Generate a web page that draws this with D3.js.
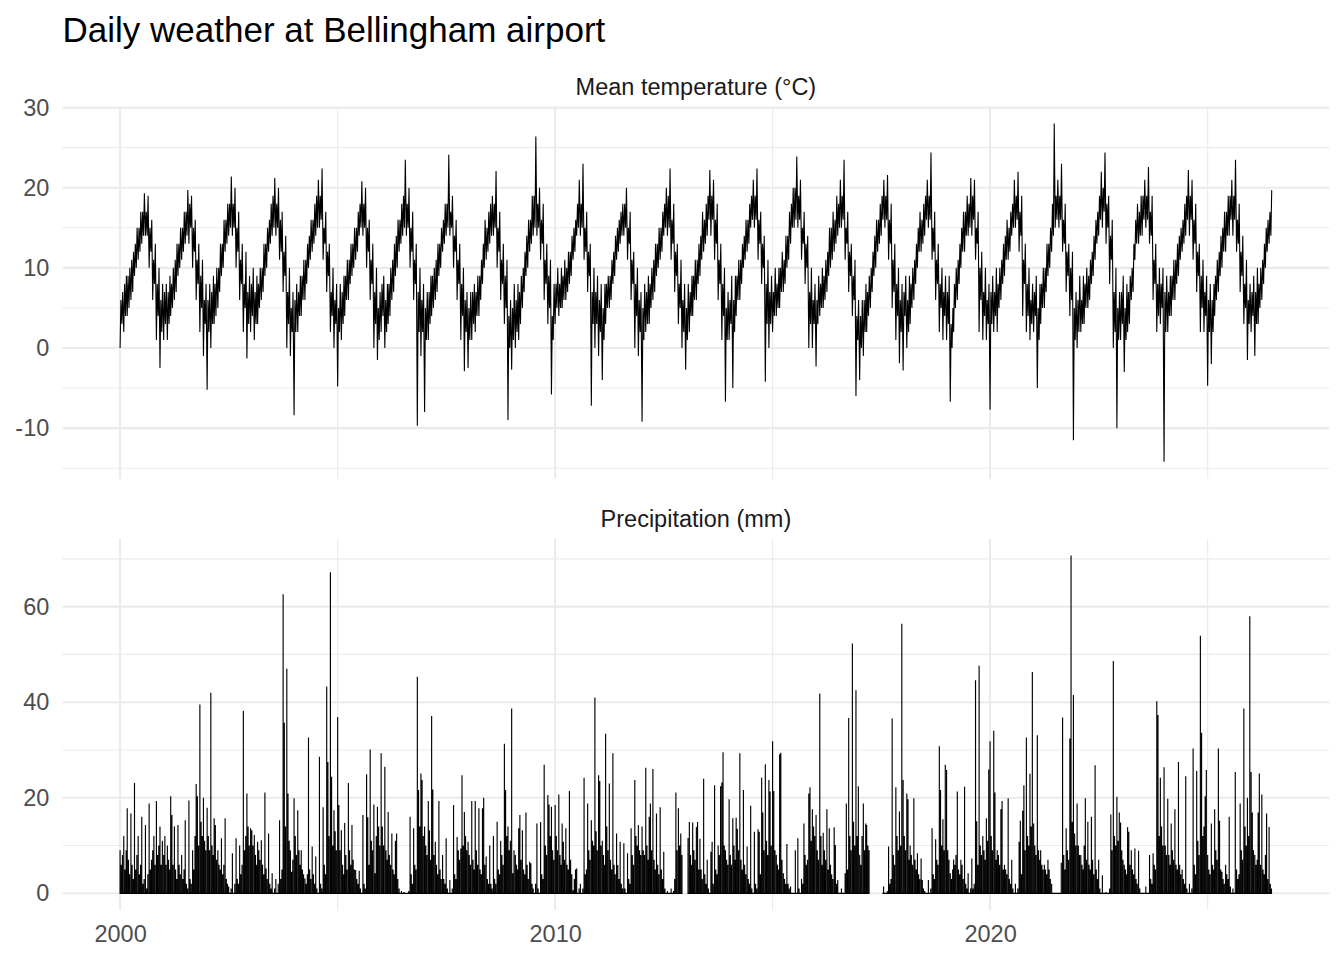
<!DOCTYPE html>
<html>
<head>
<meta charset="utf-8">
<script src="https://cdn.jsdelivr.net/npm/d3@7/dist/d3.min.js"></script>
<style>
  body { margin: 0; background: #fff; }
  svg { display: block; font-family: "Liberation Sans", Arial, Helvetica, sans-serif; }
</style>
</head>
<body>
<script>
// Daily weather at Bellingham airport.
// Temperature, per month: the low and high swings (spikes included), in °C
var t2000 = [0,7, 2,9, 4,10, 6,12, 9,15, 11,17, 13,19.3, 14,19, 10,16, 6,13, 1,10, -2.5,8];
var t2001 = [1,8, 1,9, 4,10, 6,13, 9,15, 11,17, 13,19.7, 13,19, 10,16, 6,13, 2,11, -1,8];
var t2002 = [-5.2,8, 0,9, 3,10, 5,13, 9,16, 12,18, 14,21.4, 14,20, 10,17, 6,13, 2,12, -1.3,9];
var t2003 = [2,10, 1,9, 3,10, 6,13, 9,15, 12,18, 14,21.2, 14,20, 11,17, 7,14, 0,10, -1,7];
var t2004 = [-8.4,8, 2,9, 4,11, 6,13, 10,16, 12,18, 14,21, 15,22.4, 11,17, 7,13, 2,10, 0,8];
var t2005 = [-4.8,8, 1,9, 4,11, 6,13, 9,15, 11,17, 14,20.8, 14,20, 10,16, 6,13, 0,10, -1.5,7];
var t2006 = [2,9, 0,8, 3,10, 6,13, 9,16, 12,18, 14,23.5, 14,20, 10,17, 6,13, -9.7,10, -1,8];
var t2007 = [-8,7, 1,9, 4,10, 6,13, 9,15, 12,18, 14,24.1, 14,19, 10,16, 6,13, 1,10, -2.9,7];
var t2008 = [-2.5,7, 1,8, 2,9, 4,11, 8,16, 11,17, 13,19, 14,22.1, 10,17, 6,13, 3,11, -9,6];
var t2009 = [-2.7,8, 0,8, 1,9, 5,12, 9,16, 12,19, 14,26.4, 14,20, 11,18, 6,13, 3,11, -5.8,8];
var t2010 = [3,10, 4,10, 5,11, 6,12, 8,14, 11,16, 14,21, 14,23, 11,17, 7,13, -7.2,10, 0,9];
var t2011 = [-1,8, -4,8, 3,9, 5,11, 8,14, 11,16, 13,18, 14,20, 11,17, 6,12, 0,10, -1,7];
var t2012 = [-9.2,8, 2,9, 3,10, 6,13, 9,15, 11,17, 14,20, 14,22.4, 11,18, 7,13, 3,11, 0,8];
var t2013 = [-2.7,8, 2,9, 4,11, 6,13, 9,17, 12,18, 14,22.2, 14,21, 11,18, 6,13, 1,10, -6.7,7];
var t2014 = [1,9, -5,9, 4,11, 6,13, 10,16, 12,18, 15,21, 15,22.4, 11,17, 8,14, -4.2,11, 0,9];
var t2015 = [2,10, 4,10, 5,12, 7,14, 10,17, 13,20, 15,23.9, 15,21, 11,17, 8,14, 0,10, 0,8];
var t2016 = [-2.3,9, 4,10, 5,11, 7,15, 10,17, 12,19, 14,21, 15,23.5, 11,17, 7,13, 4,11, -6,6];
var t2017 = [-4,6, -1,8, 2,9, 5,12, 9,16, 12,18, 14,21, 15,21.6, 11,18, 5,13, 1,10, -1.9,8];
var t2018 = [-2.8,9, 0,9, 3,10, 6,13, 10,17, 12,18, 14,21, 15,24.4, 11,17, 6,13, 2,10, 1,9];
var t2019 = [1,9, -6.7,5, 2,10, 6,13, 10,17, 12,19, 14,21.2, 14,21, 11,17, 2,12, 1,10, 1,8];
var t2020 = [-7.7,9, 2,10, 2,10, 6,13, 9,16, 11,17, 14,21, 15,22, 12,19, 4,13, 2,10, 1,8];
var t2021 = [2,9, -5,8, 3,10, 5,13, 9,15, 12,28, 15,21, 15,23, 12,18, 7,13, 4,12, -11.5,7];
var t2022 = [0,9, 2,9, 3,10, 5,11, 8,14, 11,17, 14,22, 15,24.4, 13,19, 8,16, 0,10, -10,7];
var t2023 = [1,9, -3,8, 2,9, 6,13, 11,18, 13,19, 14,21, 15,22.6, 13,19, 6,13, 2,10, 3,10];
var t2024 = [-14.2,9, 2,9, 4,11, 6,13, 9,15, 12,18, 14,22.2, 14,21, 11,18, 7,13, 2,11, 2,9];
var t2025 = [-4.7,8, -2,8, 4,11, 7,14, 10,17, 12,19, 14,21, 14,23.5, 12,18, 7,14, 3,11, -1.5,8];
var t2026 = [2,9, -1,10, 3,10, 6,13, 10,16, 13,19.7];

// Temperature, per month: low and high edge of the dense daily band, in °C
var tb2000 = [3,6, 4,8, 5,9, 7,11, 10,13, 12,15, 14,17, 14,17, 12,15, 8,11, 4,8, 2,6];
var tb2001 = [3,7, 3,7, 5,8, 7,11, 10,13, 12,15, 14,17, 15,18, 12,15, 8,11, 5,9, 3,6];
var tb2002 = [2,6, 3,7, 4,8, 7,10, 10,13, 13,16, 15,18, 15,18, 12,15, 8,11, 5,8, 3,7];
var tb2003 = [4,8, 3,7, 5,8, 7,10, 10,13, 13,16, 15,19, 15,18, 12,16, 9,12, 3,7, 2,5];
var tb2004 = [2,6, 4,7, 6,9, 8,11, 11,14, 13,16, 15,19, 16,19, 13,15, 9,12, 4,7, 3,6];
var tb2005 = [2,5, 3,7, 6,9, 8,11, 10,13, 12,15, 15,18, 15,18, 12,15, 8,11, 3,7, 1,5];
var tb2006 = [4,8, 2,6, 4,8, 7,11, 10,14, 13,16, 15,19, 15,18, 12,15, 8,11, 2,7, 2,6];
var tb2007 = [1,5, 3,7, 5,9, 7,11, 10,13, 13,16, 15,18, 15,17, 12,14, 8,11, 4,8, 2,6];
var tb2008 = [1,5, 3,7, 4,7, 6,9, 10,13, 12,15, 14,18, 15,18, 12,15, 8,11, 5,9, 0,4];
var tb2009 = [1,5, 2,6, 3,7, 7,10, 10,14, 13,16, 15,19, 15,18, 13,16, 8,11, 5,9, 1,4];
var tb2010 = [5,8, 5,8, 6,9, 7,10, 9,12, 12,15, 15,18, 15,18, 12,15, 9,12, 3,7, 3,7];
var tb2011 = [2,6, 1,5, 5,8, 6,9, 9,12, 12,15, 14,17, 15,18, 13,15, 8,11, 4,8, 2,6];
var tb2012 = [1,5, 3,7, 5,8, 7,11, 10,13, 12,15, 15,18, 15,19, 13,16, 9,12, 5,8, 2,6];
var tb2013 = [1,5, 4,7, 6,9, 8,11, 11,14, 13,16, 16,19, 16,19, 13,16, 8,11, 4,8, 1,5];
var tb2014 = [3,6, 2,6, 6,9, 8,11, 11,14, 13,16, 16,19, 16,19, 13,16, 10,13, 3,8, 3,7];
var tb2015 = [4,7, 5,8, 7,10, 8,11, 11,14, 15,18, 16,20, 16,19, 13,15, 10,13, 3,7, 3,6];
var tb2016 = [3,6, 5,8, 6,9, 9,12, 11,15, 13,16, 15,18, 16,19, 13,15, 9,12, 6,9, 1,4];
var tb2017 = [0,4, 2,6, 4,7, 7,10, 10,14, 13,16, 16,19, 16,19, 13,16, 7,11, 4,8, 2,6];
var tb2018 = [4,7, 2,6, 5,8, 8,11, 12,15, 13,16, 16,19, 16,19, 12,15, 8,11, 5,8, 4,7];
var tb2019 = [3,7, 0,3, 5,8, 8,11, 12,15, 14,17, 15,18, 16,19, 13,15, 6,10, 4,7, 3,6];
var tb2020 = [3,7, 4,7, 5,8, 8,11, 11,14, 12,15, 15,18, 16,19, 14,17, 8,11, 4,8, 3,6];
var tb2021 = [4,7, 1,5, 5,8, 7,10, 10,13, 14,18, 16,19, 16,19, 13,16, 9,12, 6,10, 1,5];
var tb2022 = [2,6, 3,6, 5,8, 6,9, 9,12, 13,16, 16,19, 17,20, 15,18, 11,14, 2,7, 1,5];
var tb2023 = [3,7, 1,5, 3,7, 7,10, 13,16, 14,17, 16,19, 16,19, 14,17, 8,11, 4,8, 5,8];
var tb2024 = [2,7, 4,7, 6,9, 8,11, 11,14, 13,16, 16,19, 16,19, 13,16, 9,12, 5,9, 4,7];
var tb2025 = [2,6, 2,6, 6,9, 9,12, 12,15, 14,17, 16,19, 16,19, 13,16, 9,12, 5,8, 3,6];
var tb2026 = [4,7, 3,7, 5,8, 8,11, 12,15, 14,17];

// Precipitation: three readings per month (1st, 11th, 21st), mm; null = no record
var p2000 = [9,6,8, 12,5,9, 17.8,7,4, 16.7,6,3, 23.1,5,8, 12,4,6, 16,2,3, 14.3,1,4, 18.8,5,7, 9,12,6, 19.3,8,10, 14,6,11];
var p2001 = [8,12,6, 10,7,5, 20.3,16.4,6, 14,5,3, 14.3,6,4, 8,3,5, 15.3,2,1, 19.4,3,2, 9,5,12, 22.9,20.3,10, 39.5,15,12, 20,11,9];
var p2002 = [17.9,12,9, 42,10,8, 15.7,14.3,7, 9,6,5, 11.5,4,6, 15.7,3,2, 1.4,0,1, 8.4,0,2, 11.5,3,2, 10,4,6, 38.2,9,12, 20.9,14,10];
var p2003 = [13.6,13.2,10, 12.2,8,6, 10.8,9,7, 11.1,6,4, 21.1,5.2,3, 12.5,2,1, 4.2,0,1, 3,0,2, 15.3,3,5, 62.6,35.7,14, 47,20.9,11, 9,4.5,7];
var p2004 = [19.9,12,8, 17.4,9,6, 9,5,4, 3.1,2,4, 32.6,5,3, 9.8,4,2, 7.7,1,0, 28.6,2,1, 18,6,4, 43.3,27.5,12, 67.2,24.4,10, 17.4,13,9];
var p2005 = [36.9,18.5,9, 13.2,6,4, 14.7,8,5, 23.1,9,6, 14.3,7,5, 4.9,3,2, 4.7,1,0, 16.4,2,1, 24.9,15.9,6, 30.1,11,9, 18.6,4.2,12, 18.1,14,10];
var p2006 = [29.3,14,10, 26.5,9,7, 17,8,6, 12.5,5,4, 11,12.5,3, 1,0,0.5, 0,0.3,0, 0,0,0.5, 16,4,2, 13.6,6,5, 45.3,21.6,14, 25.1,23.7,12];
var p2007 = [14,10,8, 19.3,13.2,7, 37.1,21.7,8, 10.8,6,4, 19.3,5,3, 8,3,2, 11.5,1,0, 2.8,0,1, 18.5,4,3, 11.8,9,7, 9.4,24.7,10, 17,12,9];
var p2008 = [10.8,8,6, 19.3,7,5, 19.3,9,6, 17.8,5,4, 17.8,20,6, 7.7,3,2, 10,2,1, 12,3,2, 15,5,4, 11,8,6, 31.3,21.6,12, 14,9,11];
var p2009 = [38.7,4.2,9, 8,6,5, 13.6,16.4,7, 13.2,5,4, 16.9,6,3, 6.6,6.3,2, 1,0,2, 14.6,1,0, 14.9,4,3, 26.9,10,8, 20.6,18.6,12, 18.1,9,7];
var p2010 = [18.5,12,9, 20.7,8,6, 14.6,10.8,7, 13.6,6,5, 21.4,7,4, 0.7,3,5, 5.2,0,1, 2,0,1, 24.2,4,5, 18.8,9,7, 15.3,11,10, 41,13,9];
var p2011 = [24.7,23.5,10, 11,8,6, 33.4,14,9, 23,7,5, 29.3,6,4, 12.5,5.9,3, 10.8,2,1, 10.5,1,0, 8.4,3,2, 13.6,8,6, 23.7,12,10, 14.3,9,8];
var p2012 = [14,9,8, 26.3,10,7, 16,18.8,9, 26,7,5, 16.7,6,4, 18,5,3, 8.7,1,0, 0.5,0,0, 1,0,0.5, 3,21.1,9, 17.8,10,12.5, 8,null,null];
var p2013 = [null,null,11.6, 14.9,8,6, 14.8,9,7, 13.9,14.9,5, 11.4,5,3, 24,4,2, 7,1,0, 8.7,10.8,2, 22.6,5,4, 10,8,22.4, 23.2,29.5,10, 9,7,6];
var p2014 = [19.7,8,6, 15.7,10,7, 15.8,13.5,9, 29.3,7,5, 21.6,6,4, 9.8,3,2, 18.3,1,0, 12.9,2,1, 13.4,12.9,4, 24.2,16.9,9, 27,11,8, 23.7,21.3,10];
var p2015 = [31.8,21.4,9, 8,6,5, 29.1,29.4,7, 4.2,3,2, 10.3,2,1, 1.4,0,0, 0,9,0, 11.5,1,0, 3,2,14.6, 8,6,7, 20.9,22.2,11, 17.6,14,12];
var p2016 = [16.4,9,7, 41.8,12,6, 12.7,9,7, 17.6,5,13.6, 6,4,3, 13.8,10.1,2, 2.8,0,0, 1,0,0, 4.2,18.8,5, 36.7,12,9, 52.3,15,10, 42.5,12,22.4];
var p2017 = [8,6,12, 18.8,9,14.6, 14.3,10,9, null,null,null, null,null,null, null,null,null, null,0,1.4, 0,0,0.5, 9.8,2,3, 36.6,8,6, 22.2,12,9, 17.1,10,56.4];
var p2018 = [23.7,12,9, 20.9,19.7,7, 10,8,6, 19.9,7,5, 8.4,4,3, 7.3,2.8,1, 0.5,0,0, 2.8,0,1, 13.6,4,3, 11.3,7,6, 30.8,21.6,10, 15.5,9,26.9];
var p2019 = [25.8,9,7, 4.2,3,5, 7.1,6,8, 21.3,5,4, 7,6,3, 22.3,2,1, 4.2,0,1, 7.3,1,2, 44.6,15.1,6, 47.6,10,8, 12,9,7, 15.7,11,25.9];
var p2020 = [31.8,12,9, 34,21.1,7, 9,8,6, 17.6,19.3,5, 6,5,4, 19.9,3,2, 7,1,0, 2,0,1, 10.8,15.2,4, 17.3,22.6,9, 32.6,12,10, 25,14,46.3];
var p2021 = [14.6,10,8, 33.1,9,7, 9,6,5, 6,5,4, 7,5,3, 2,0,0, 0,0,0, 0,0,6.4, 36.8,8,5, 13.6,9,7, 32.4,70.7,15, 41.5,12.5,10];
var p2022 = [18.8,10,8, 8,6,5, 10,19.9,7, 15,6,5, 16,7,4, 26.8,5,3, 7,1,0, 3.8,0,0, 0.3,0,0, 1,16.5,9, 48.6,12,10, 20.2,11,16.9];
var p2023 = [14.8,9,7, 6,5,4, 13.8,12.9,6, 9,5,4, 9.4,3,2, 8.9,1,0, 0,0,0, 1.4,0,0, 8,3,2, 8.4,6,5, 40.2,37.3,12, 24.2,14,10];
var p2024 = [26.4,10,8, 19.8,8,6, 14.6,9,7, 17.6,6,5, 27.5,6,4, 5,3,2, 24.5,1,0, 2,0,1, 30.3,6,4, 25.6,11,8, 53.9,33.6,12, 14,20.3,25.8];
var p2025 = [8,5,4, 14.6,6,5, 17.6,9,7, 30.3,15.2,5, 4.5,3,2, 6,4,3, 16,1.4,0, 1,0,25.4, 5,3,4, 18.8,9,7, 38.7,14,10, 20,12,58];
var p2026 = [25.4,16.9,9, 8,6,7, 16.9,25.1,6, 20.7,5,4, 8,16.7,3, 13.9,2,1];

var years = d3.range(2000, 2027);
var tempByYear = [t2000,t2001,t2002,t2003,t2004,t2005,t2006,t2007,t2008,t2009,t2010,t2011,t2012,t2013,
                  t2014,t2015,t2016,t2017,t2018,t2019,t2020,t2021,t2022,t2023,t2024,t2025,t2026];
var bandByYear = [tb2000,tb2001,tb2002,tb2003,tb2004,tb2005,tb2006,tb2007,tb2008,tb2009,tb2010,tb2011,tb2012,tb2013,
                  tb2014,tb2015,tb2016,tb2017,tb2018,tb2019,tb2020,tb2021,tb2022,tb2023,tb2024,tb2025,tb2026];
var precipByYear = [p2000,p2001,p2002,p2003,p2004,p2005,p2006,p2007,p2008,p2009,p2010,p2011,p2012,p2013,
                    p2014,p2015,p2016,p2017,p2018,p2019,p2020,p2021,p2022,p2023,p2024,p2025,p2026];

var chartTitle = "Daily weather at Bellingham airport";
var panelTitles = ["Mean temperature (°C)", "Precipitation (mm)"];
var tempTicks = [-10, 0, 10, 20, 30], tempMinor = [-15, -5, 5, 15, 25];
var precipTicks = [0, 20, 40, 60], precipMinor = [10, 30, 50, 70];
var yearTicks = [2000, 2010, 2020], yearMinor = [2005, 2015, 2025];

// turn the arrays into dated rows: four temperature readings a month
// (swing low on the 1st, band high on the 8th, band low on the 16th, swing high on the 23rd)
var temps = [], precs = [];
years.forEach(function(yr, i) {
  var t = tempByYear[i], b = bandByYear[i];
  for (var m = 0; m < t.length / 2; m++) {
    temps.push({date: new Date(yr, m, 1),  value: t[2 * m]});
    temps.push({date: new Date(yr, m, 8),  value: b[2 * m + 1]});
    temps.push({date: new Date(yr, m, 16), value: b[2 * m]});
    temps.push({date: new Date(yr, m, 23), value: t[2 * m + 1]});
  }
  precipByYear[i].forEach(function(v, k) {
    precs.push({date: new Date(yr, Math.floor(k / 3), [1, 11, 21][k % 3]), value: v});
  });
});

// layout, like a ggplot theme_minimal at this size
var W = 1344, H = 960;
var left = 62.5, right = W - 14.7;
var panels = [{top: 106.7, bottom: 478.7}, {top: 538.6, bottom: 910.2}];

var svg = d3.select("body").append("svg").attr("width", W).attr("height", H);

// expand a domain by 5% on each side
function expand(ext) {
  var p = (ext[1] - ext[0]) * 0.05;
  return [ext[0] - p, ext[1] + p];
}

var allDates = temps.map(function(d){ return d.date; }).concat(precs.map(function(d){ return d.date; }));
var dExt = d3.extent(allDates).map(Number);
var x = d3.scaleTime().domain(expand(dExt).map(function(v){ return new Date(v); })).range([left, right]);

var yT = d3.scaleLinear().domain(expand(d3.extent(temps, function(d){ return d.value; })))
  .range([panels[0].bottom, panels[0].top]);
var yP = d3.scaleLinear().domain(expand([0, d3.max(precs, function(d){ return d.value; })]))
  .range([panels[1].bottom, panels[1].top]);

var grid = "#ebebeb";

function drawGrid(y, p, major, minor) {
  var g = svg.append("g");
  g.selectAll(".ym").data(minor).enter().append("line")
    .attr("x1", left).attr("x2", right)
    .attr("y1", function(d){ return y(d); }).attr("y2", function(d){ return y(d); })
    .attr("stroke", grid).attr("stroke-width", 1.1);
  g.selectAll(".xm").data(yearMinor).enter().append("line")
    .attr("y1", p.top).attr("y2", p.bottom)
    .attr("x1", function(d){ return x(new Date(d, 0, 1)); }).attr("x2", function(d){ return x(new Date(d, 0, 1)); })
    .attr("stroke", grid).attr("stroke-width", 1.1);
  g.selectAll(".yM").data(major).enter().append("line")
    .attr("x1", left).attr("x2", right)
    .attr("y1", function(d){ return y(d); }).attr("y2", function(d){ return y(d); })
    .attr("stroke", grid).attr("stroke-width", 2.1);
  g.selectAll(".xM").data(yearTicks).enter().append("line")
    .attr("y1", p.top).attr("y2", p.bottom)
    .attr("x1", function(d){ return x(new Date(d, 0, 1)); }).attr("x2", function(d){ return x(new Date(d, 0, 1)); })
    .attr("stroke", grid).attr("stroke-width", 2.1);
}
drawGrid(yT, panels[0], tempTicks, tempMinor);
drawGrid(yP, panels[1], precipTicks, precipMinor);

// clip paths for the two panels
var defs = svg.append("defs");
panels.forEach(function(p, i) {
  defs.append("clipPath").attr("id", "clip" + i).append("rect")
    .attr("x", left).attr("y", p.top).attr("width", right - left).attr("height", p.bottom - p.top);
});

// temperature line
var tLine = d3.line()
  .x(function(d){ return x(d.date); })
  .y(function(d){ return yT(d.value); });
svg.append("path").datum(temps)
  .attr("clip-path", "url(#clip0)")
  .attr("d", tLine)
  .attr("fill", "none").attr("stroke", "#000").attr("stroke-width", 1.1)
  .attr("stroke-linejoin", "miter").attr("stroke-miterlimit", 2);

// precipitation: each reading is a spike up from the dry-day baseline
var pts = [];
precs.forEach(function(d) {
  if (d.value == null) { pts.push({date: d.date, value: null}); return; }
  pts.push({date: d.date, value: 0}, {date: d.date, value: d.value}, {date: d.date, value: 0});
});
var pLine = d3.line()
  .defined(function(d){ return d.value != null; })
  .x(function(d){ return x(d.date); })
  .y(function(d){ return yP(d.value); });
svg.append("path").datum(pts)
  .attr("clip-path", "url(#clip1)")
  .attr("d", pLine)
  .attr("fill", "none").attr("stroke", "#000").attr("stroke-width", 1.15);

// axes (labels only, theme_minimal has no ticks or axis lines)
function styleAxis(g) {
  g.select(".domain").remove();
  g.selectAll("text").attr("fill", "#4d4d4d").style("font-size", "23.5px");
}
svg.append("g").attr("transform", "translate(" + left + ",0)")
  .call(d3.axisLeft(yT).tickValues(tempTicks).tickSize(0).tickPadding(13.2).tickFormat(function(d){ return String(d); }))
  .call(styleAxis);
svg.append("g").attr("transform", "translate(" + left + ",0)")
  .call(d3.axisLeft(yP).tickValues(precipTicks).tickSize(0).tickPadding(13.2).tickFormat(function(d){ return String(d); }))
  .call(styleAxis);
svg.append("g").attr("transform", "translate(0," + panels[1].bottom + ")")
  .call(d3.axisBottom(x).tickValues(yearTicks.map(function(d){ return new Date(d, 0, 1); }))
    .tickSize(0).tickPadding(15).tickFormat(d3.timeFormat("%Y")))
  .call(styleAxis);

// facet strip labels
svg.selectAll(".strip").data(panelTitles).enter().append("text")
  .attr("x", (left + right) / 2)
  .attr("y", function(d, i){ return panels[i].top - 12; })
  .attr("text-anchor", "middle")
  .attr("fill", "#1a1a1a").style("font-size", "23.5px")
  .text(function(d){ return d; });

// title
svg.append("text").attr("x", left).attr("y", 42)
  .attr("fill", "#000").style("font-size", "35px")
  .text(chartTitle);
</script>
</body>
</html>
